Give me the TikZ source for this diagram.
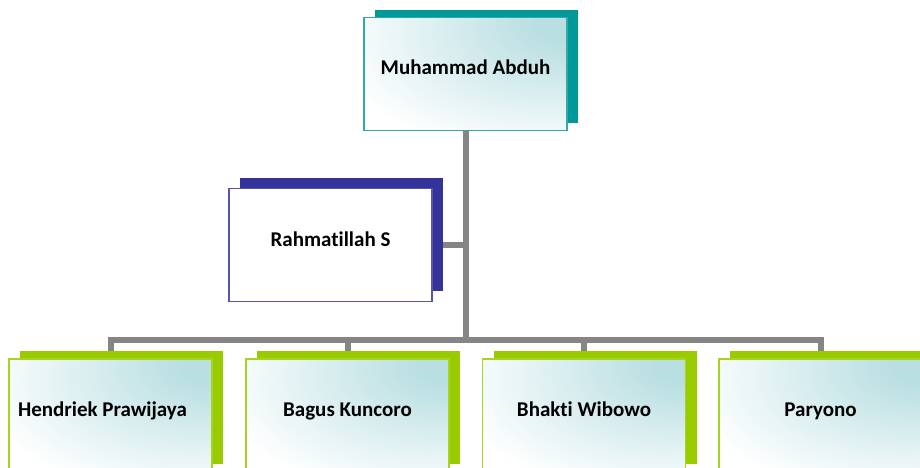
\documentclass[tikz,border=0pt]{standalone}
\usepackage{fontspec}
\setmainfont{Carlito}[Ligatures=NoCommon]
\definecolor{tealD}{HTML}{009999}
\definecolor{tealB}{HTML}{33A8A8}
\definecolor{navyD}{HTML}{333399}
\definecolor{navyB}{HTML}{5555B0}
\definecolor{limeD}{HTML}{99CC00}
\definecolor{limeB}{HTML}{A8D420}
\definecolor{lineG}{HTML}{858585}
\definecolor{paleT}{HTML}{BADFE2}
\pgfdeclareradialshading{boxshade}{\pgfpoint{30bp}{26bp}}{color(0bp)=(paleT); color(10bp)=(paleT); color(48bp)=(white); color(100bp)=(white)}
\tikzset{
  x=1pt, y=-1pt,
  plainbox/.style={rectangle, minimum width=203pt, minimum height=113pt, inner sep=0pt,
     line width=1.5pt, font=\fontsize{21}{23}\selectfont\bfseries,
     text height=12pt, text depth=10pt},
  frontbox/.style={plainbox, shading=boxshade},
  backbox/.style={rectangle, minimum width=203pt, minimum height=113pt, inner sep=0pt, draw=none},
  conn/.style={draw=lineG, line width=6pt}
}
\begin{document}
\begin{tikzpicture}
\useasboundingbox (0,0) rectangle (920,468);
\clip (0,0) rectangle (920,468);
% top
\node[backbox, fill=tealD] (topS) at (476.5,66.5) {};
\node[frontbox, draw=tealB] (top) at (465.5,74) {Muhammad Abduh};
% assistant
\node[backbox, fill=navyD] (rahS) at (341.5,234.5) {};
\node[plainbox, draw=navyB, fill=white] (rah) at (330.5,245) {Rahmatillah S};
% bottom
\foreach \n/\x in {hS/110.5, bS/347.5, kS/584, pS/820.5}{
  \node[backbox, fill=limeD] (\n) at (\x+11,407.5) {};
}
\node[frontbox, draw=limeB] (h) at (110.5,415.5) {\hspace*{-16pt}Hendriek Prawijaya};
\node[frontbox, draw=limeB] (b) at (347.5,415.5) {Bagus Kuncoro};
\node[frontbox, draw=limeB] (k) at (584,415.5) {Bhakti Wibowo};
\node[frontbox, draw=limeB] (p) at (820.5,415.5) {Paryono};
% connectors
\coordinate (barL) at (110.5,340);
\coordinate (barR) at (820.5,340);
\coordinate (junc) at (465.5,340);
\draw[conn] (top.south) -- (junc);
\draw[conn] (rahS.east |- rah.east) -- (rah.east -| top.south);
\draw[conn, line join=miter] (hS.north -| h.north) -- (barL) -- (barR) -- (pS.north -| p.north);
\draw[conn] (bS.north -| b.north) -- (b.north |- barL);
\draw[conn] (kS.north -| k.north) -- (k.north |- barL);
\end{tikzpicture}
\end{document}
